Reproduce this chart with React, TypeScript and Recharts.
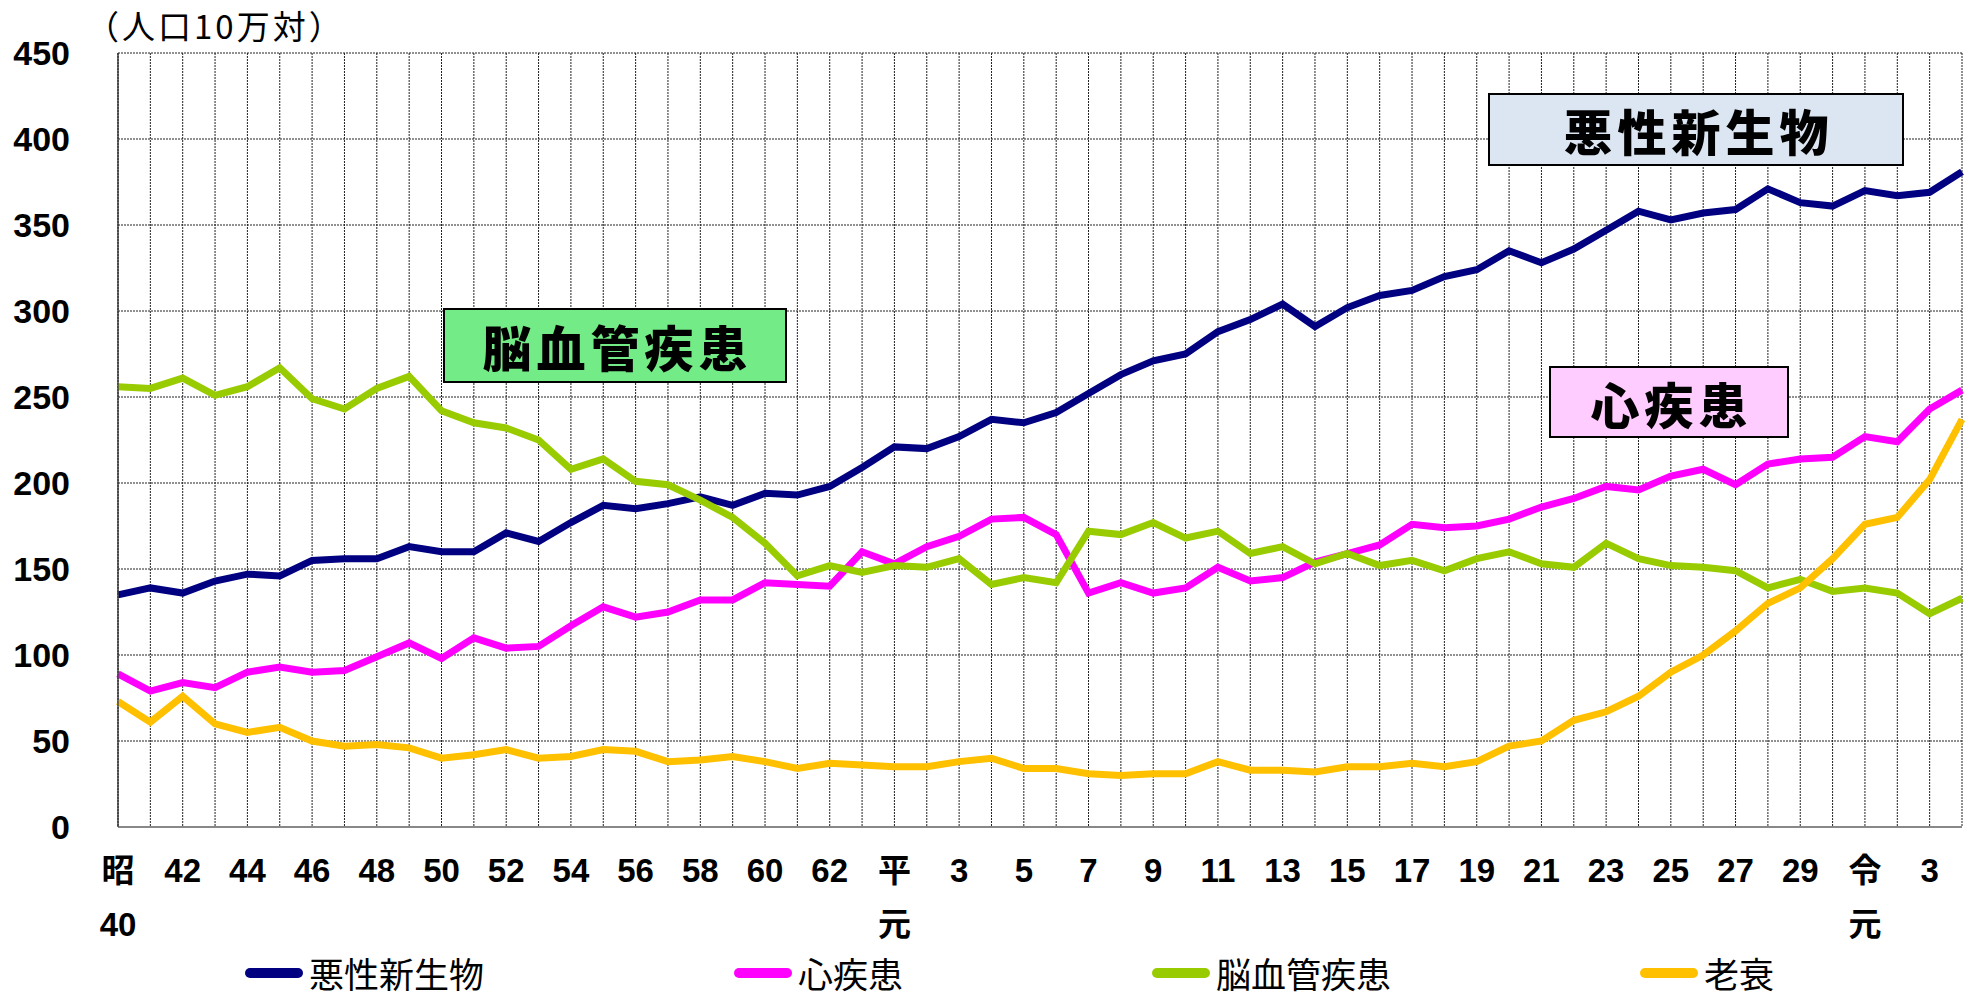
import { LineChart, Line, XAxis, YAxis, CartesianGrid } from "recharts"

const years = [
  "昭40", "昭41", "昭42", "昭43", "昭44", "昭45", "昭46", "昭47", "昭48", "昭49",
  "昭50", "昭51", "昭52", "昭53", "昭54", "昭55", "昭56", "昭57", "昭58", "昭59",
  "昭60", "昭61", "昭62", "昭63",
  "平元", "平2", "平3", "平4", "平5", "平6", "平7", "平8", "平9", "平10",
  "平11", "平12", "平13", "平14", "平15", "平16", "平17", "平18", "平19", "平20",
  "平21", "平22", "平23", "平24", "平25", "平26", "平27", "平28", "平29", "平30",
  "令元", "令2", "令3", "令4",
]

// 人口10万対
const cancer = [
  135, 139, 136, 143, 147, 146, 155, 156, 156, 163,
  160, 160, 171, 166, 177, 187, 185, 188, 192, 187,
  194, 193, 198, 209,
  221, 220, 227, 237, 235, 241, 252, 263, 271, 275,
  288, 295, 304, 291, 302, 309, 312, 320, 324, 335,
  328, 336, 347, 358, 353, 357, 359, 371, 363, 361,
  370, 367, 369, 381,
]
const heart = [
  89, 79, 84, 81, 90, 93, 90, 91, 99, 107,
  98, 110, 104, 105, 117, 128, 122, 125, 132, 132,
  142, 141, 140, 160,
  153, 163, 169, 179, 180, 170, 136, 142, 136, 139,
  151, 143, 145, 154, 159, 164, 176, 174, 175, 179,
  186, 191, 198, 196, 204, 208, 199, 211, 214, 215,
  227, 224, 243, 254,
]
const cerebro = [
  256, 255, 261, 251, 256, 267, 249, 243, 255, 262,
  242, 235, 232, 225, 208, 214, 201, 199, 190, 180,
  165, 146, 152, 148,
  152, 151, 156, 141, 145, 142, 172, 170, 177, 168,
  172, 159, 163, 153, 159, 152, 155, 149, 156, 160,
  153, 151, 165, 156, 152, 151, 149, 139, 144, 137,
  139, 136, 124, 133,
]
const senility = [
  73, 61, 76, 60, 55, 58, 50, 47, 48, 46,
  40, 42, 45, 40, 41, 45, 44, 38, 39, 41,
  38, 34, 37, 36,
  35, 35, 38, 40, 34, 34, 31, 30, 31, 31,
  38, 33, 33, 32, 35, 35, 37, 35, 38, 47,
  50, 62, 67, 76, 90, 100, 114, 130, 139, 156,
  176, 180, 202, 237,
]

const yTicks = [0, 50, 100, 150, 200, 250, 300, 350, 400, 450]

const xLabels: Record<string, string[]> = {
  "昭40": ["昭", "40"], "昭42": ["42"], "昭44": ["44"], "昭46": ["46"], "昭48": ["48"],
  "昭50": ["50"], "昭52": ["52"], "昭54": ["54"], "昭56": ["56"], "昭58": ["58"],
  "昭60": ["60"], "昭62": ["62"], "平元": ["平", "元"], "平3": ["3"], "平5": ["5"],
  "平7": ["7"], "平9": ["9"], "平11": ["11"], "平13": ["13"], "平15": ["15"],
  "平17": ["17"], "平19": ["19"], "平21": ["21"], "平23": ["23"], "平25": ["25"],
  "平27": ["27"], "平29": ["29"], "令元": ["令", "元"], "令3": ["3"],
}

const series = [
  { key: "cancer", name: "悪性新生物", color: "#000080", values: cancer },
  { key: "heart", name: "心疾患", color: "#FF00FF", values: heart },
  { key: "cerebro", name: "脳血管疾患", color: "#99CC00", values: cerebro },
  { key: "senility", name: "老衰", color: "#FFC000", values: senility },
]

const data = years.map((year, i) => {
  const row: Record<string, string | number> = { year }
  series.forEach((s) => (row[s.key] = s.values[i]))
  return row
})

const jp = '"Noto Sans CJK JP", sans-serif'
const num = '"Liberation Sans", "Noto Sans CJK JP", sans-serif'

// legend item left edges
const legendLeft = [245, 734, 1152, 1640]

// eslint-disable-next-line @typescript-eslint/no-explicit-any
function YearTick({ x, y, payload }: any) {
  const lines = xLabels[payload.value]
  if (!lines) return <g />
  return (
    <g>
      {lines.map((t, i) => (
        <text
          key={i}
          x={x}
          y={y + 43 + i * 54}
          textAnchor="middle"
          dominantBaseline="central"
          fontSize={33}
          fontWeight="bold"
          fontFamily={num}
          fill="#000"
        >
          {t}
        </text>
      ))}
    </g>
  )
}

function Label({ text, left, top, width, height, bg }: {
  text: string; left: number; top: number; width: number; height: number; bg: string
}) {
  return (
    <div
      style={{
        position: "absolute",
        left,
        top,
        width,
        height,
        boxSizing: "border-box",
        background: bg,
        border: "2px solid #000",
        display: "flex",
        alignItems: "center",
        justifyContent: "center",
        fontFamily: jp,
        fontWeight: 900,
        fontSize: 49,
        letterSpacing: 5,
        paddingLeft: 5,
        color: "#000",
      }}
    >
      {text}
    </div>
  )
}

export default function App() {
  return (
    <div style={{ position: "absolute", left: 0, top: 0, width: 1974, height: 999, background: "#fff", overflow: "hidden" }}>
      <LineChart
        width={1974}
        height={999}
        data={data}
        margin={{ top: 53, right: 12, bottom: 0, left: 0 }}
      >
        <CartesianGrid stroke="#222" strokeDasharray="2 1" strokeWidth={1} />
        <XAxis
          dataKey="year"
          interval={0}
          height={172}
          tickLine={false}
          tickSize={0}
          tickMargin={0}
          axisLine={{ stroke: "#888", strokeWidth: 2 }}
          tick={<YearTick />}
        />
        <YAxis
          domain={[0, 450]}
          ticks={yTicks}
          width={118}
          tickLine={false}
          tickSize={0}
          tickMargin={48}
          axisLine={{ stroke: "#444", strokeWidth: 1.5 }}
          tick={{ fontSize: 34, fontWeight: "bold", fill: "#000", fontFamily: num }}
        />
        {series.map((s) => (
          <Line
            key={s.key}
            dataKey={s.key}
            name={s.name}
            stroke={s.color}
            strokeWidth={7}
            dot={false}
            type="linear"
            isAnimationActive={false}
          />
        ))}
      </LineChart>

      <div
        style={{
          position: "absolute",
          left: 86,
          top: 6,
          fontFamily: jp,
          fontSize: 33,
          letterSpacing: 3,
          lineHeight: "38px",
          color: "#000",
          whiteSpace: "nowrap",
        }}
      >
        （人口10万対）
      </div>

      <Label text="脳血管疾患" left={443} top={308} width={344} height={75} bg="#73EB86" />
      <Label text="悪性新生物" left={1488} top={93} width={416} height={73} bg="#DCE6F2" />
      <Label text="心疾患" left={1549} top={366} width={240} height={72} bg="#FFCCFF" />

      {series.map((s, i) => (
        <div
          key={s.key}
          style={{
            position: "absolute",
            left: legendLeft[i],
            top: 954,
            height: 38,
            display: "flex",
            alignItems: "center",
            fontFamily: jp,
            fontSize: 35,
            lineHeight: "38px",
            color: "#000",
            whiteSpace: "nowrap",
          }}
        >
          <span
            style={{
              display: "inline-block",
              width: 58,
              height: 10,
              borderRadius: 5,
              background: s.color,
              marginRight: 6,
            }}
          />
          {s.name}
        </div>
      ))}
    </div>
  )
}
